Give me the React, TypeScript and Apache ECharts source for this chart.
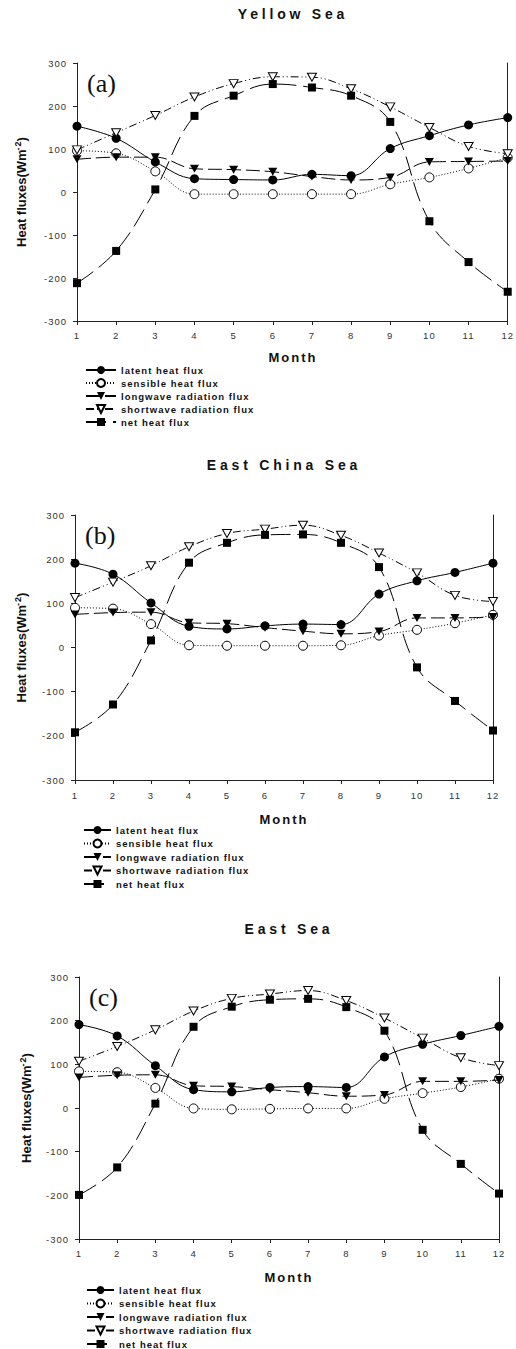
import React, { useEffect, useRef } from "react";
import * as echarts from "echarts";

const months = [1, 2, 3, 4, 5, 6, 7, 8, 9, 10, 11, 12];
const seriesNames = [
  "latent heat flux",
  "sensible heat flux",
  "longwave radiation flux",
  "shortwave radiation flux",
  "net heat flux",
];
const panelTitles = ["Yellow Sea", "East China Sea", "East Sea"];
const panelLetters = ["(a)", "(b)", "(c)"];
const xAxisTitle = "Month";
const yAxisTitle = "Heat fluxes(Wm{sup|-2})";

// Yellow Sea
const latentA = [153, 125, 70, 31, 29, 28, 41, 38, 101, 131, 156, 173];
const sensibleA = [96, 90, 48, -5, -5, -5, -5, -5, 18, 34, 55, 80];
const longwaveA = [76, 81, 81, 54, 52, 47, 36, 28, 34, 70, 71, 72];
const shortwaveA = [98, 138, 178, 221, 252, 268, 267, 240, 198, 150, 106, 89];
const netA = [-212, -137, 6, 177, 224, 251, 243, 224, 163, -68, -163, -232];

// East China Sea
const latentB = [191, 166, 101, 48, 42, 49, 53, 52, 121, 151, 170, 191];
const sensibleB = [90, 88, 53, 5, 4, 4, 4, 5, 27, 40, 55, 74];
const longwaveB = [75, 79, 80, 56, 54, 45, 37, 31, 36, 67, 67, 69];
const shortwaveB = [113, 148, 185, 228, 258, 268, 277, 254, 214, 169, 118, 104];
const netB = [-192, -129, 16, 192, 237, 255, 256, 237, 182, -45, -121, -188];

// East Sea
const latentC = [191, 165, 97, 42, 37, 47, 49, 47, 117, 146, 166, 187];
const sensibleC = [84, 82, 46, -1, -3, -2, -1, -1, 21, 34, 48, 67];
const longwaveC = [70, 75, 76, 51, 49, 42, 35, 27, 30, 61, 61, 64];
const shortwaveC = [107, 141, 179, 222, 251, 261, 269, 246, 206, 160, 115, 97];
const netC = [-199, -136, 10, 186, 232, 248, 250, 231, 177, -50, -128, -196];

const panelData = [
  [latentA, sensibleA, longwaveA, shortwaveA, netA],
  [latentB, sensibleB, longwaveB, shortwaveB, netB],
  [latentC, sensibleC, longwaveC, shortwaveC, netC],
];

const FONT = "'Liberation Sans', Arial, sans-serif";
const TRI = "path://M0,0L10,0L5,9Z";

const seriesStyles: any[] = [
  { symbol: "circle", symbolSize: 9, itemStyle: { color: "#000" }, lineStyle: { type: "solid" } },
  {
    symbol: "circle",
    symbolSize: 9,
    itemStyle: { color: "#fff", borderColor: "#000", borderWidth: 1 },
    lineStyle: { type: [1, 2] },
  },
  { symbol: TRI, symbolSize: [9, 8], itemStyle: { color: "#000" }, lineStyle: { type: [14, 5] } },
  {
    symbol: TRI,
    symbolSize: [9, 8],
    itemStyle: { color: "#fff", borderColor: "#000", borderWidth: 1 },
    lineStyle: { type: [8, 3, 1, 3, 1, 3] },
  },
  { symbol: "rect", symbolSize: 8, itemStyle: { color: "#000" }, lineStyle: { type: [20, 7] } },
];

const layouts = [
  { left: 77, top: 63, width: 432, height: 258, nameGap: 48, labelMargin: 9, titleY: 14, monthY: 357, legendLeft: 85, legendTop: 365, legendW: 30, legendGap: 3 },
  { left: 75, top: 515, width: 418, height: 265, nameGap: 46, labelMargin: 10, titleY: 465, monthY: 819, legendLeft: 83, legendTop: 825, legendW: 27, legendGap: 3.5 },
  { left: 79, top: 977, width: 420, height: 262, nameGap: 45, labelMargin: 9, titleY: 929, monthY: 1277, legendLeft: 86, legendTop: 1285, legendW: 27, legendGap: 3.5 },
];

function applySpacing(el: HTMLElement) {
  el.querySelectorAll("text").forEach((t) => {
    const s = (t.textContent || "").trim();
    if (panelTitles.includes(s)) t.setAttribute("letter-spacing", "3.8");
    else if (s === xAxisTitle) t.setAttribute("letter-spacing", "2");
    else if (seriesNames.includes(s)) t.setAttribute("letter-spacing", "1");
    else if (/^-?\d+$/.test(s)) t.setAttribute("letter-spacing", "1");
  });
}

export default function App() {
  const ref = useRef<HTMLDivElement>(null);
  useEffect(() => {
    if (!ref.current) return;
    const chart = echarts.init(ref.current, undefined, { renderer: "svg" });
    const grid: any[] = [];
    const xAxis: any[] = [];
    const yAxis: any[] = [];
    const series: any[] = [];
    const legend: any[] = [];
    const graphic: any[] = [];
    const axisLineStyle = { color: "#222", width: 1 };

    layouts.forEach((L, p) => {
      grid.push({ left: L.left, top: L.top, width: L.width, height: L.height });
      xAxis.push({
        type: "value",
        gridIndex: p,
        min: 1,
        max: 12,
        interval: 1,
        splitLine: { show: false },
        axisLine: { show: true, onZero: false, lineStyle: axisLineStyle },
        axisTick: { show: true, inside: false, length: 4, lineStyle: axisLineStyle },
        axisLabel: { margin: L.labelMargin, fontSize: 9.5, fontFamily: FONT, color: "#333" },
      });
      yAxis.push({
        type: "value",
        gridIndex: p,
        min: -300,
        max: 300,
        interval: 100,
        splitLine: { show: false },
        axisLine: { show: true, onZero: false, lineStyle: axisLineStyle },
        axisTick: { show: true, inside: false, length: 4, lineStyle: axisLineStyle },
        axisLabel: { margin: 10, fontSize: 9.5, fontFamily: FONT, color: "#333" },
        name: yAxisTitle,
        nameLocation: "middle",
        nameGap: L.nameGap,
        nameTextStyle: {
          fontSize: 13,
          fontWeight: "bold",
          fontFamily: FONT,
          color: "#111",
          lineHeight: 16,
          rich: {
            sup: { fontSize: 9, fontWeight: "bold", fontFamily: FONT, color: "#111", verticalAlign: "top", lineHeight: 10 },
          },
        },
      });
      yAxis.push({
        type: "value",
        gridIndex: p,
        position: "right",
        min: -300,
        max: 300,
        interval: 100,
        splitLine: { show: false },
        axisLine: { show: true, onZero: false, lineStyle: axisLineStyle },
        axisTick: { show: false },
        axisLabel: { show: false },
      });
      panelData[p].forEach((vals, k) => {
        const st = seriesStyles[k];
        series.push({
          type: "line",
          name: seriesNames[k],
          xAxisIndex: p,
          yAxisIndex: 2 * p,
          data: months.map((m, i) => [m, vals[i]]),
          smooth: 0.4,
          symbol: st.symbol,
          symbolSize: st.symbolSize,
          showAllSymbol: true,
          itemStyle: st.itemStyle,
          lineStyle: { color: "#000", width: 1, type: st.lineStyle.type },
          z: 2 + k,
        });
      });
      legend.push({
        orient: "vertical",
        left: L.legendLeft,
        top: L.legendTop,
        itemWidth: L.legendW,
        itemHeight: 10,
        itemGap: L.legendGap,
        padding: 0,
        selectedMode: false,
        data: seriesNames,
        textStyle: { fontSize: 9.5, fontWeight: "bold", fontFamily: FONT, color: "#111", lineHeight: 10 },
      });
      const cx = L.left + L.width / 2;
      graphic.push({
        type: "text",
        x: cx,
        y: L.titleY,
        style: {
          text: panelTitles[p],
          font: `bold 14px ${FONT}`,
          fill: "#111",
          align: "center",
          verticalAlign: "middle",
          textAlign: "center",
          textVerticalAlign: "middle",
        },
      });
      graphic.push({
        type: "text",
        x: cx,
        y: L.monthY,
        style: {
          text: xAxisTitle,
          font: `bold 13px ${FONT}`,
          fill: "#111",
          align: "center",
          verticalAlign: "middle",
          textAlign: "center",
          textVerticalAlign: "middle",
        },
      });
      graphic.push({
        type: "text",
        x: L.left + 10,
        y: L.top + 20,
        style: {
          text: panelLetters[p],
          font: `26px 'Liberation Serif', 'Times New Roman', serif`,
          fill: "#111",
          align: "left",
          verticalAlign: "middle",
          textAlign: "left",
          textVerticalAlign: "middle",
        },
      });
    });

    chart.setOption({
      animation: false,
      backgroundColor: "#fff",
      grid,
      xAxis,
      yAxis,
      series,
      legend,
      graphic,
    });
    const el = ref.current;
    applySpacing(el);
    chart.on("finished", () => applySpacing(el));
    return () => {
      chart.dispose();
    };
  }, []);
  return (
    <div
      ref={ref}
      style={{ position: "absolute", left: 0, top: 0, width: 516, height: 1349, background: "#fff" }}
    />
  );
}
